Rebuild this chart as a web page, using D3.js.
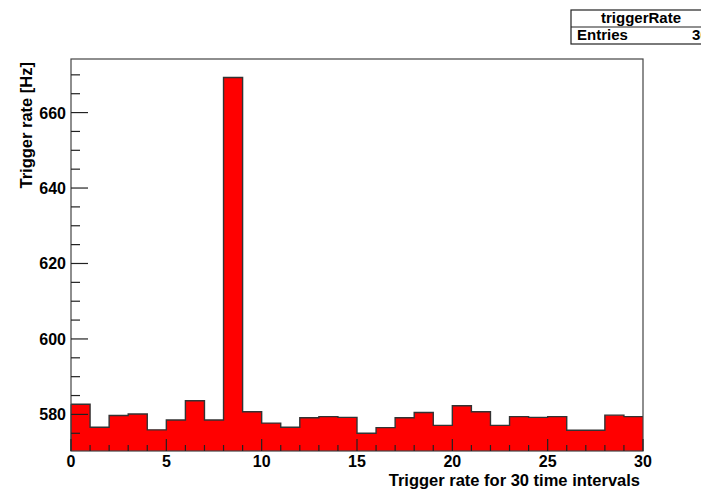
<!DOCTYPE html>
<html lang="en">
<head>
<meta charset="UTF-8">
<title>triggerRate</title>
<style>
body{ margin:0; background:white; }
svg text{ font-family:"Liberation Sans", Arial, sans-serif; fill:black; }
.tick text{ font-weight:bold; font-size:16px; }
.title{ font-size:16.5px; font-weight:bold; }
.stat text{ font-size:15px; font-weight:bold; }
</style>
</head>
<body>
<script src="https://cdn.jsdelivr.net/npm/d3@7"></script>
<script>
// bin contents of histogram triggerRate, 30 intervals
var binEdges = d3.range(0, 31);
var rates = [582.7, 576.6, 579.7, 580.1, 575.9, 578.5, 583.6, 578.5, 669.3, 580.7,
             577.7, 576.6, 579.1, 579.4, 579.2, 575.0, 576.5, 579.1, 580.5, 577.1,
             582.3, 580.7, 577.1, 579.4, 579.2, 579.4, 575.8, 575.8, 579.8, 579.4];
var xTicks = [0, 5, 10, 15, 20, 25, 30];
var yTicks = [580, 600, 620, 640, 660];
var statName = "triggerRate";
var statRows = [["Entries", "30"]];

var W = 701, H = 491;
var frame = {l:71, r:643, t:59, b:451};

var svg = d3.select("body").append("svg").attr("width", W).attr("height", H);

var x = d3.scaleLinear().domain([0, 30]).range([frame.l, frame.r]);
var y = d3.scaleLinear().domain([570.3, 674.2]).range([frame.b, frame.t]);

// histogram as a step outline
var pts = [[x(0), y.range()[0]]];
rates.forEach(function(v, i){
	pts.push([x(binEdges[i]), y(v)]);
	pts.push([x(binEdges[i+1]), y(v)]);
});
pts.push([x(30), y.range()[0]]);

svg.append("path")
	.attr("d", d3.line()(pts))
	.attr("fill", "#ff0000")
	.attr("stroke", "none");

svg.append("path")
	.attr("d", d3.line()(pts.slice(1, pts.length - 1)))
	.attr("fill", "none")
	.attr("stroke", "#333")
	.attr("stroke-width", 1.4);
svg.append("line")
	.attr("x1", x(0)).attr("x2", x(0)).attr("y1", y(rates[0])).attr("y2", frame.b)
	.attr("stroke", "#333");

// frame
svg.append("rect")
	.attr("x", frame.l).attr("y", frame.t)
	.attr("width", frame.r - frame.l).attr("height", frame.b - frame.t)
	.attr("fill", "none").attr("stroke", "#444").attr("stroke-width", 1.2);

// x axis ticks
var gx = svg.append("g").attr("class", "tick");
gx.selectAll("line").data(d3.range(0, 31)).enter().append("line")
	.attr("x1", function(d){ return x(d); }).attr("x2", function(d){ return x(d); })
	.attr("y1", frame.b).attr("y2", function(d){ return frame.b - (d % 5 == 0 ? 12 : 6); })
	.attr("stroke", "#222").attr("stroke-width", 1.2);
gx.selectAll("text").data(xTicks).enter().append("text")
	.attr("x", function(d){ return x(d); }).attr("y", 467)
	.attr("text-anchor", "middle")
	.text(function(d){ return d; });

// y axis ticks
var gy = svg.append("g").attr("class", "tick");
gy.selectAll("line").data(d3.range(575, 675, 5)).enter().append("line")
	.attr("x1", frame.l).attr("x2", function(d){ return frame.l + (d % 20 == 0 ? 17 : 9); })
	.attr("y1", function(d){ return y(d); }).attr("y2", function(d){ return y(d); })
	.attr("stroke", "#222").attr("stroke-width", 1.2);
gy.selectAll("text").data(yTicks).enter().append("text")
	.attr("x", 66).attr("y", function(d){ return y(d) + 6; })
	.attr("text-anchor", "end")
	.text(function(d){ return d; });

// axis titles
svg.append("text").attr("class", "title")
	.attr("x", 640).attr("y", 486).attr("text-anchor", "end")
	.text("Trigger rate for 30 time intervals");
svg.append("text").attr("class", "title")
	.attr("transform", "translate(32,62) rotate(-90)")
	.attr("text-anchor", "end")
	.text("Trigger rate [Hz]");

// stats box
var st = svg.append("g").attr("class", "stat");
st.append("rect").attr("x", 571).attr("y", 10).attr("width", 140).attr("height", 34)
	.attr("fill", "white").attr("stroke", "#222").attr("stroke-width", 1.2);
st.append("line").attr("x1", 571).attr("x2", 711).attr("y1", 27).attr("y2", 27)
	.attr("stroke", "#222").attr("stroke-width", 1.2);
st.append("text").attr("x", 641).attr("y", 23).attr("text-anchor", "middle").text(statName);
statRows.forEach(function(r, i){
	st.append("text").attr("x", 577).attr("y", 40 + i * 17).text(r[0]);
	st.append("text").attr("x", 692).attr("y", 40 + i * 17).text(r[1]);
});
</script>
</body>
</html>
